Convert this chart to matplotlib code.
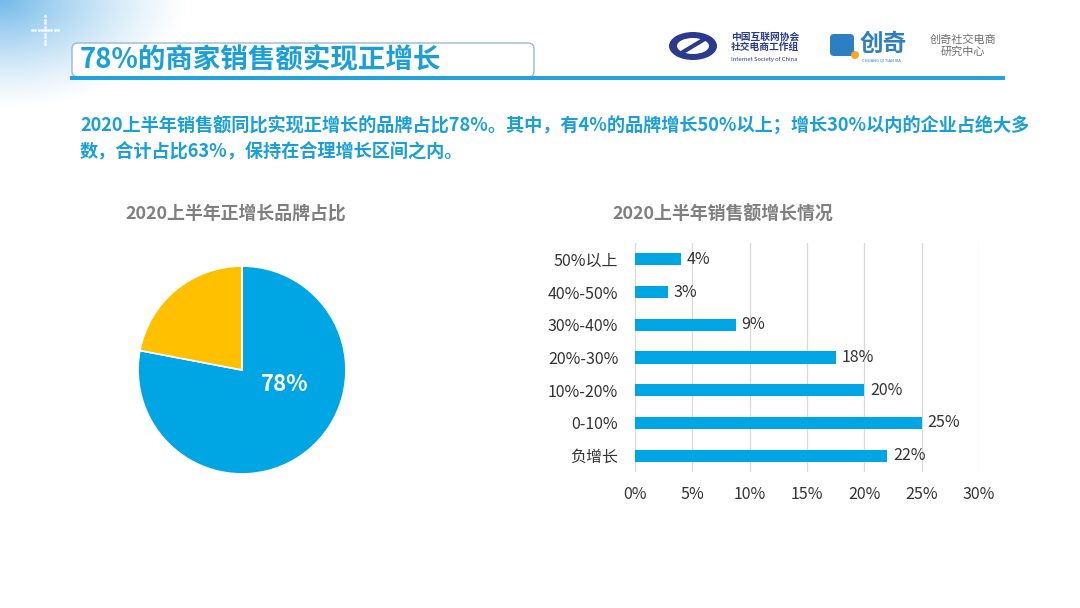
import numpy as np
import matplotlib
matplotlib.use("Agg")
import matplotlib.pyplot as plt
from matplotlib.patches import FancyBboxPatch, Ellipse, Rectangle

plt.rcParams["font.family"] = ["Noto Sans CJK SC", "DejaVu Sans"]

# data
pie_labels = ["正增长", "其他"]
pie_values = [78, 22]
bar_cats = ["负增长", "0-10%", "10%-20%", "20%-30%", "30%-40%", "40%-50%", "50%以上"]
bar_values = [22, 25, 20, 17.5, 8.8, 2.9, 4]
bar_labels = ["22%", "25%", "20%", "18%", "9%", "3%", "4%"]
x_ticks = [0, 5, 10, 15, 20, 25, 30]

BLUE = "#00A6E3"
YELLOW = "#FFC000"
TXT_BLUE = "#1A9FD9"
GRAY = "#7F7F7F"
W, H = 1080, 608


def box(l, t, r, b):
    return [l / W, (H - b) / H, (r - l) / W, (b - t) / H]


fig = plt.figure(figsize=(10.8, 6.08), dpi=100)
fig.patch.set_facecolor("white")

# background with corner gradient
bg = fig.add_axes([0, 0, 1, 1])
bg.set_xlim(0, W)
bg.set_ylim(H, 0)
bg.axis("off")
yy, xx = np.mgrid[0:120, 0:220]
d = np.sqrt((xx / 190.0) ** 2 + (yy / 110.0) ** 2)
alpha = np.clip(1 - d, 0, 1) ** 1.3 * 0.85
img = np.zeros((120, 220, 4))
img[..., 0] = 0.35
img[..., 1] = 0.68
img[..., 2] = 0.90
img[..., 3] = alpha
bg.imshow(img, extent=(0, 220, 120, 0), zorder=0)
# dotted sparkle cross
for k in range(-4, 5):
    bg.plot(45 + k * 3.2, 30, "o", ms=2.2, color="white", alpha=0.75, mec="none")
    bg.plot(45, 30 + k * 3.5, "o", ms=2.2, color="white", alpha=0.75, mec="none")

# title box
bg.add_patch(FancyBboxPatch((72, 43), 462, 34, boxstyle="round,pad=0,rounding_size=6",
                            facecolor="white", edgecolor="#9DB8CC", lw=1.0, zorder=2))
bg.add_patch(Rectangle((70, 76), 935, 4, facecolor="#22A3DB", edgecolor="none", zorder=3))
bg.text(80, 60, "78%的商家销售额实现正增长", fontsize=19.8, fontweight="bold",
        color=TXT_BLUE, ha="left", va="center", zorder=4)

# logos
bg.add_patch(Ellipse((693, 46), 48, 28, facecolor="#2B3A8C", edgecolor="none", zorder=2))
bg.add_patch(Ellipse((693, 46), 32, 16, facecolor="white", edgecolor="none", zorder=3))
bg.plot([683, 703], [52, 40], color="#2B3A8C", lw=3, zorder=4)
bg.text(731, 42, "中国互联网协会\n社交电商工作组", fontsize=7, color="#2B3A8C",
        fontweight="bold", ha="left", va="center", linespacing=1.1)
bg.text(731, 59, "Internet Society of China", fontsize=4.2, color="#2B3A8C", ha="left", va="center")
bg.add_patch(FancyBboxPatch((830, 34), 24, 22, boxstyle="round,pad=0,rounding_size=4",
                            facecolor="#2E7FC1", edgecolor="none", zorder=2))
bg.add_patch(Ellipse((855, 55), 8, 8, facecolor="#F5A623", edgecolor="none", zorder=3))
bg.text(860, 44, "创奇", fontsize=17, color="#2E7FC1", fontweight="bold", ha="left", va="center")
bg.text(862, 60, "CHUANG QI TIAN XIA", fontsize=3, color="#2E7FC1", ha="left", va="center")
bg.text(963, 46, "创奇社交电商\n研究中心", fontsize=8, color="#6E6E6E",
        ha="center", va="center", linespacing=1.2)

# description
bg.text(80, 126, "2020上半年销售额同比实现正增长的品牌占比78%。其中，有4%的品牌增长50%以上；增长30%以内的企业占绝大多",
        fontsize=13.1, fontweight="bold", color=TXT_BLUE, ha="left", va="center")
bg.text(80, 152, "数，合计占比63%，保持在合理增长区间之内。",
        fontsize=13.1, fontweight="bold", color=TXT_BLUE, ha="left", va="center")

# subtitles
bg.text(236, 214, "2020上半年正增长品牌占比", fontsize=12.9, fontweight="bold",
        color=GRAY, ha="center", va="center")
bg.text(723, 215, "2020上半年销售额增长情况", fontsize=12.9, fontweight="bold",
        color=GRAY, ha="center", va="center")

# pie
ax1 = fig.add_axes(box(136, 264, 348, 476))
ax1.pie(pie_values, colors=[BLUE, YELLOW], startangle=90, counterclock=False,
        wedgeprops=dict(edgecolor="white", linewidth=1.2), radius=1.0)
ax1.set_xlim(-1.02, 1.02)
ax1.set_ylim(-1.02, 1.02)
ax1.set_aspect("equal")
ax1.text(0.41, -0.14, f"{pie_values[0]}%", fontsize=16, fontweight="bold",
         color="white", ha="center", va="center")

# bars
ax2 = fig.add_axes(box(635, 243, 979, 472))
y = np.arange(len(bar_cats))
ax2.barh(y, bar_values, height=0.37, color=BLUE, zorder=3)
for yi, v, lab in zip(y, bar_values, bar_labels):
    ax2.text(v + 0.5, yi, lab, fontsize=11.5, color="#333333", ha="left", va="center")
ax2.set_xlim(0, 30)
ax2.set_ylim(-0.5, len(bar_cats) - 0.5)
ax2.set_yticks(y)
ax2.set_yticklabels(bar_cats, fontsize=11.5, color="#333333")
ax2.set_xticks(x_ticks)
ax2.set_xticklabels([f"{t}%" for t in x_ticks], fontsize=11.5, color="#333333")
ax2.tick_params(axis="both", length=0)
ax2.tick_params(axis="x", pad=10)
ax2.tick_params(axis="y", pad=12)
ax2.grid(axis="x", color="#D9D9D9", lw=0.9, zorder=0)
for s in ax2.spines.values():
    s.set_visible(False)

fig.savefig("out.png", dpi=100)
